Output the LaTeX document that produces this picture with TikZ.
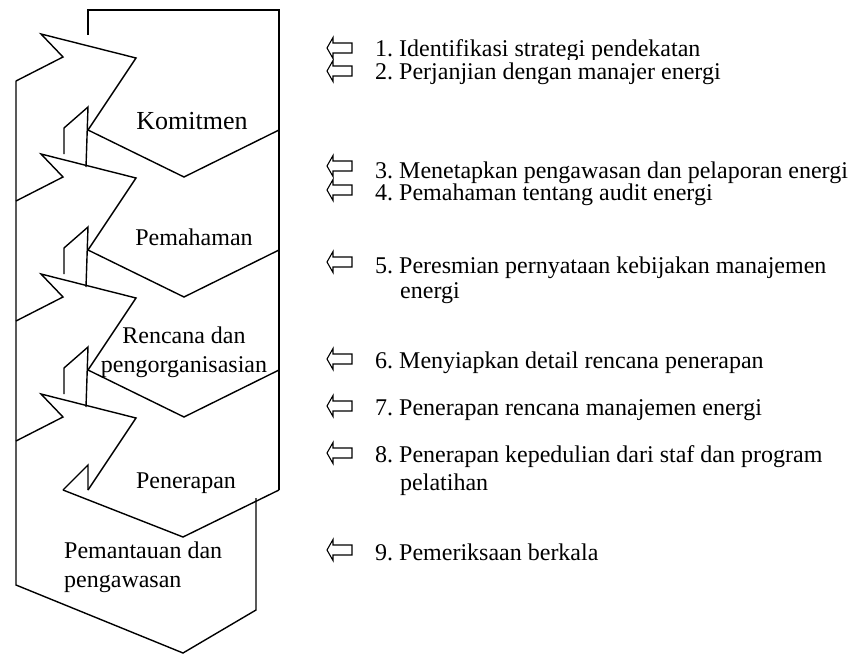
\documentclass[tikz,border=0pt]{standalone}
\usepackage{fontspec}
\setmainfont{Liberation Serif}
\frenchspacing
\newcommand\lblfont{\fontsize{24bp}{28bp}\selectfont\frenchspacing}
\newcommand\bigfont{\fontsize{26bp}{30bp}\selectfont}
\tikzset{
  dline/.style={line width=1.4bp, black},
  lbl/.style={inner sep=0pt, font=\lblfont},
  item/.style={inner sep=0pt, font=\lblfont, anchor=base west},
  larrow/.pic={\draw[line width=1.1bp, line join=miter] (0,0) -- (6,-10.5) -- (6,-5) -- (25,-5) -- (25,5) -- (6,5) -- (6,10.5) -- cycle;}
}
\begin{document}
\begin{tikzpicture}[x=1bp,y=-1bp]
\useasboundingbox (0,0) rectangle (851,655);
% frame of the cycle
\draw[dline] (88,35) -- (88,10) -- (279,10) -- (279,490);
\draw[dline] (256,498) -- (256,610) -- (183,653) -- (16,585) -- (16,81);
% arrows entering each stage
\foreach \k in {0,1,2,3}{
  \pgfmathsetmacro\dy{120*\k}
  \draw[dline] (16,81+\dy) -- (63,57+\dy) -- (41,34+\dy) -- (136,58+\dy) -- (88,130+\dy);
}
% bottoms of stages
\foreach \k in {0,1,2}{
  \pgfmathsetmacro\dy{120*\k}
  \draw[dline] (88,130+\dy) -- (184,177+\dy) -- (279,130+\dy);
  \draw[dline] (64,154+\dy) -- (64,128+\dy) -- (88,107+\dy) -- (86,167+\dy);
}
\draw[dline] (63,490) -- (183,537) -- (279,490);
\draw[dline] (63,490) -- (88,465) -- (88,490);
% stage labels
\node[inner sep=0pt, font=\bigfont, anchor=base] (komitmen) at (192,130) {Komitmen};
\node[lbl, anchor=base] (pemahaman) at (194,245) {Pemahaman};
\node[lbl, anchor=base] (rencana1) at (184,343) {Rencana dan};
\node[lbl, anchor=base] (rencana2) at (184,372) {pengorganisasian};
\node[lbl, anchor=base] (penerapan) at (186,488) {Penerapan};
\node[lbl, anchor=base west] (pemantauan1) at (64,558) {Pemantauan dan};
\node[lbl, anchor=base west] (pemantauan2) at (64,587) {pengawasan};
% list arrows
\foreach \c in {48,71,166,190,262,359,406,453,550}{
  \pic at (327,\c) {larrow};
}
% list items
\node[item] (i1) at (375,57) {1. Identifikasi strategi pendekatan};
\node[item, fill=white, text height=20bp] (i2) at (375,80) {2. Perjanjian dengan manajer energi};
\node[item] (i3) at (375,178) {3. Menetapkan pengawasan dan pelaporan energi};
\node[item] (i4) at (375,200) {4. Pemahaman tentang audit energi};
\node[item] (i5) at (375,273) {5. Peresmian pernyataan kebijakan manajemen};
\node[item] (i5b) at (400,298) {energi};
\node[item] (i6) at (375,368) {6. Menyiapkan detail rencana penerapan};
\node[item] (i7) at (375,415) {7. Penerapan rencana manajemen energi};
\node[item] (i8) at (375,462) {8. Penerapan kepedulian dari staf dan program};
\node[item] (i8b) at (400,490) {pelatihan};
\node[item] (i9) at (375,560) {9. Pemeriksaan berkala};
\end{tikzpicture}
\end{document}
